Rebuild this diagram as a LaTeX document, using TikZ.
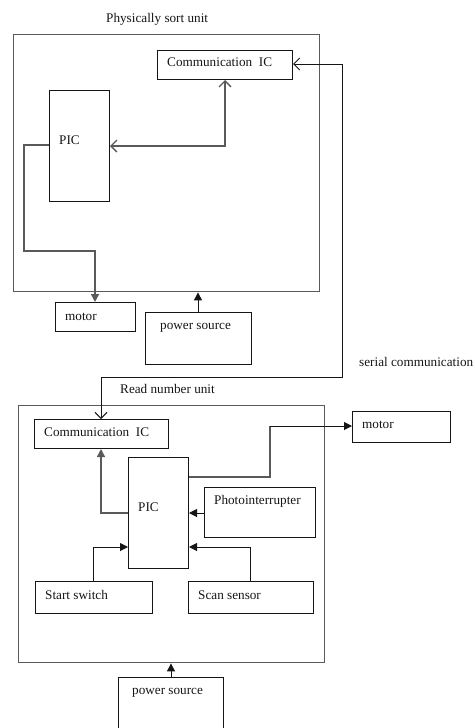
\documentclass[tikz,border=0pt]{standalone}
\usepackage{fontspec}
\setmainfont{Liberation Serif}
\usetikzlibrary{arrows.meta}
\definecolor{lgray}{HTML}{5a5a5a}
\definecolor{dk}{HTML}{151515}
\begin{document}
\begin{tikzpicture}[x=1pt,y=-1pt,
  box/.style={draw=dk,line width=1pt,rectangle,inner sep=0pt,anchor=north west},
  outer/.style={draw=lgray,line width=1.4pt,rectangle,inner sep=0pt,anchor=north west},
  txt/.style={anchor=base west,inner sep=0pt,font=\fontsize{13.2}{15}\selectfont,text=dk},
  gline/.style={draw=lgray,line width=1.4pt},
  bline/.style={draw=dk,line width=1pt},
  oarrs/.style={{Straight Barb[length=6pt,width=12pt]}-{Straight Barb[length=6pt,width=12pt]}},
  fillarr/.style={-{Triangle[length=8pt,width=8pt]}}]
\useasboundingbox (0,0) rectangle (474,728);
\clip (0,0) rectangle (474,728);
% ---------- top unit ----------
\node[txt] (tTitle) at (106,22) {Physically sort unit};
\node[outer,minimum width=306pt,minimum height=257pt] (oT) at (13,34) {};
\node[box,minimum width=135pt,minimum height=29pt] (ciT) at (157,50) {};
\node[txt] (ciTt) at (167,66) {Communication\ \ IC};
\node[box,minimum width=60pt,minimum height=111pt] (picT) at (49,90) {};
\node[txt] (picTt) at (59,144) {PIC};
\node[box,minimum width=80pt,minimum height=29pt] (motT) at (55,302) {};
\node[txt] (motTt) at (65,320) {motor};
\node[box,minimum width=106pt,minimum height=52pt] (powT) at (145,312) {};
\node[txt] (powTt) at (160,329) {power source};
% connectors top
\draw[gline,oarrs] (picT.east |- 0,146) -- (225,146) -- (ciT.south -| 225,0);
\draw[gline,fillarr] (picT.west |- 0,145) -- (24,145) -- (24,251) -- (95,251) -- (motT.north -| 95,0);
\draw[bline,fillarr] (powT.north -| 198,0) -- (oT.south -| 198,0);
% serial communication
\node[txt] (serT) at (359,366) {serial communication};
\node[txt] (rnT) at (120,393) {Read number unit};
% ---------- lower unit ----------
\node[outer,minimum width=306pt,minimum height=257pt] (oB) at (18,405) {};
\node[box,minimum width=134pt,minimum height=29pt] (ciB) at (34,419) {};
\node[txt] (ciBt) at (44,436) {Communication\ \ IC};
\draw[bline,oarrs] (ciT.east |- 0,64) -- (342,64) -- (342,377) -- (101,377) -- (ciB.north -| 101,0);
\node[box,minimum width=98pt,minimum height=31pt] (motB) at (352,411) {};
\node[txt] (motBt) at (362,428) {motor};
\node[box,minimum width=60pt,minimum height=111pt] (picB) at (128,457) {};
\node[txt] (picBt) at (138,511) {PIC};
\node[box,minimum width=111pt,minimum height=50pt] (phB) at (204,487) {};
\node[txt] (phBt) at (214,504) {Photointerrupter};
\node[box,minimum width=117pt,minimum height=32pt] (ssB) at (35,581) {};
\node[txt] (ssBt) at (45,599) {Start switch};
\node[box,minimum width=125pt,minimum height=32pt] (scB) at (188,581) {};
\node[txt] (scBt) at (198,599) {Scan sensor};
\node[box,minimum width=105pt,minimum height=60pt] (powB) at (118,677) {};
\node[txt] (powBt) at (132,694) {power source};
% connectors lower
\draw[gline,fillarr] (picB.west |- 0,513) -- (101,513) -- (ciB.south -| 101,0);
\draw[gline] (picB.east |- 0,477) -- (270,477) -- (270,426);
\draw[bline,fillarr] (270,426) -- (motB.west |- 0,426);
\draw[bline,fillarr] (phB.west |- 0,513) -- (picB.east |- 0,513);
\draw[bline,fillarr] (ssB.north -| 93,0) -- (93,547) -- (picB.west |- 0,547);
\draw[bline,fillarr] (scB.north -| 250,0) -- (250,547) -- (picB.east |- 0,547);
\draw[bline,fillarr] (powB.north -| 171,0) -- (oB.south -| 171,0);
\end{tikzpicture}
\end{document}
